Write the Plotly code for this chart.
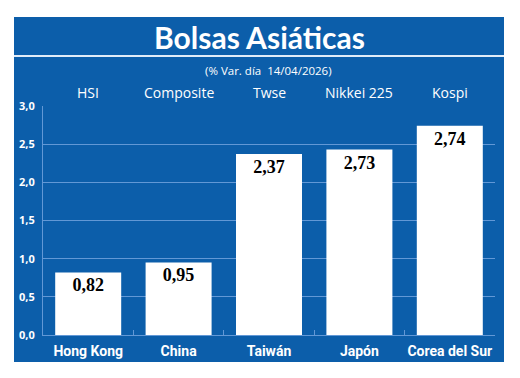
import plotly.graph_objects as go

paises = ["Hong Kong", "China", "Taiwán", "Japón", "Corea del Sur"]
indices = ["HSI", "Composite", "Twse", "Nikkei 225", "Kospi"]
valores = [0.82, 0.95, 2.37, 2.43, 2.74]
etiquetas = ["0,82", "0,95", "2,37", "2,73", "2,74"]
yticks = [0, 0.5, 1.0, 1.5, 2.0, 2.5, 3.0]
yticklabels = ["0,0", "0,5", "1,0", "1,5", "2,0", "2,5", "3,0"]
titulo = "Bolsas Asiáticas"
subtitulo = "(% Var. día  14/04/2026)"

W, H = 520, 378
L, R, T, B = 43, 25, 106, 43
pw, ph = W - L - R, H - T - B
BLUE = "rgb(12,94,170)"
LIGHT = "rgb(98,152,214)"


def px(x):
    return (x - L) / pw


def py(y):
    return (H - B - y) / ph


fig = go.Figure(go.Bar(
    x=paises, y=valores, text=etiquetas,
    marker=dict(color="white", line=dict(width=0)),
    textposition="inside", insidetextanchor="end",
    textfont=dict(family="Liberation Serif", size=18, color="black", weight="bold"),
    cliponaxis=False, textangle=0, hoverinfo="skip",
))

shapes = [
    dict(type="rect", xref="paper", yref="paper", x0=px(14), x1=px(504), y0=py(362), y1=py(17),
         fillcolor=BLUE, line=dict(width=0), layer="below"),
    dict(type="line", xref="paper", yref="paper", x0=px(14), x1=px(504), y0=py(56), y1=py(56),
         line=dict(color="rgb(225,236,248)", width=2), layer="below"),
]

annotations = [
    dict(text=titulo, xref="paper", yref="paper", x=px(259), y=py(37), showarrow=False,
         font=dict(family="Lato", size=30, color="white", weight="bold"), xanchor="center", yanchor="middle"),
    dict(text=subtitulo, xref="paper", yref="paper", x=px(268), y=py(70), showarrow=False,
         font=dict(family="Open Sans", size=11.5, color="white"), xanchor="center", yanchor="middle"),
]
for p, idx in zip(paises, indices):
    annotations.append(dict(text=idx, x=p, xref="x", yref="paper", y=py(92), showarrow=False,
                            font=dict(family="Open Sans", size=14, color="white"),
                            xanchor="center", yanchor="middle"))

fig.update_layout(
    width=W, height=H,
    margin=dict(l=L, r=R, t=T, b=B),
    paper_bgcolor="white", plot_bgcolor="rgba(0,0,0,0)",
    bargap=0.27, showlegend=False,
    shapes=shapes, annotations=annotations,
    xaxis=dict(type="category", showgrid=False, showline=True, linecolor=LIGHT, linewidth=1,
               ticks="inside", tickson="boundaries", ticklen=5, tickcolor=LIGHT,
               tickangle=0, automargin=False,
               tickfont=dict(family="Roboto", size=14, color="white", weight="bold"),
               ticklabelstandoff=3),
    yaxis=dict(range=[0, 3], tickvals=yticks, ticktext=yticklabels, showgrid=True,
               gridcolor=LIGHT, gridwidth=1, showline=True, linecolor=LIGHT, linewidth=1,
               zeroline=False, ticks="", ticklabelstandoff=5, automargin=False,
               tickfont=dict(family="Open Sans", size=11, color="white", weight="bold")),
)

fig.write_html("out.html", config={"displayModeBar": False},
               post_script="document.body.style.margin='0';document.body.style.padding='0';")
